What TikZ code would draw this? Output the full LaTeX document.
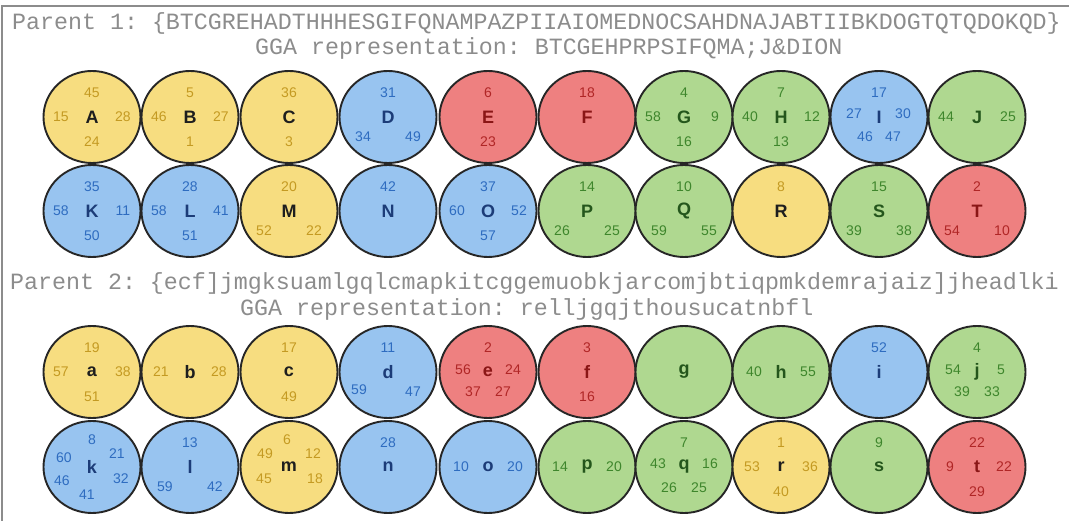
\documentclass[tikz,border=0pt]{standalone}
\usepackage{fontspec}
\setmainfont{Liberation Sans}
\setmonofont{Liberation Mono}
\usepackage{xcolor}
\usepackage{tikz}
\usetikzlibrary{shapes.geometric, positioning}

\definecolor{yelFill}{HTML}{F7DD80}
\definecolor{yelInk}{HTML}{1E1E1E}
\definecolor{yelNum}{HTML}{C49A22}
\definecolor{bluFill}{HTML}{98C4F0}
\definecolor{bluInk}{HTML}{1C3C78}
\definecolor{bluNum}{HTML}{2E6CC0}
\definecolor{redFill}{HTML}{EE8080}
\definecolor{redInk}{HTML}{8A1616}
\definecolor{redNum}{HTML}{B02626}
\definecolor{grnFill}{HTML}{AFD890}
\definecolor{grnInk}{HTML}{24561C}
\definecolor{grnNum}{HTML}{3E862C}
\definecolor{ballEdge}{HTML}{262626}
\definecolor{chromGray}{HTML}{8C8C8C}

% gene ball: name, colour, x, y, letter
\newcommand{\gene}[5]{\node[ball, fill=#2Fill, text=#2Ink] (#1) at (#3,#4) {#5};}
% index around a ball: ball, colour, tag, offset, value
\newcommand{\idx}[5]{\node[num, text=#2Num] (#1-#3) at ([shift={(#4)}]#1) {#5};}

\begin{document}
\begin{tikzpicture}[
  x=1pt, y=-1pt,
  ball/.style={ellipse, draw=ballEdge, line width=1.9pt, minimum width=97pt, minimum height=92pt, inner sep=0pt, font=\fontsize{18}{18}\selectfont\bfseries},
  num/.style={inner sep=0pt, font=\fontsize{14}{14}\selectfont},
  chrom/.style={inner sep=0pt, anchor=west, text=chromGray, font=\ttfamily\fontsize{23.3}{24}\selectfont}
]
  \useasboundingbox (0,0) rectangle (1069,521);
  \draw[chromGray, line width=1.4pt] (2,521) -- (2,6) -- (1069,6);

  % parent 1
  \node[chrom] (p1) at (12,23) {Parent 1: \{BTCGREHADTHHHESGIFQNAMPAZPIIAIOMEDNOCSAHDNAJABTIIBKDOGTQTQDOKQD\}};
  \node[chrom] (p1gga) at (255,48) {GGA representation: BTCGEHPRPSIFQMA;J\&DION};

  \gene{A}{yel}{92}{117}{A}
  \idx{A}{yel}{t}{0,-24}{45} \idx{A}{yel}{l}{-31,0}{15} \idx{A}{yel}{r}{31,0}{28} \idx{A}{yel}{b}{0,25}{24}
  \gene{B}{yel}{190}{117}{B}
  \idx{B}{yel}{t}{0,-24}{5} \idx{B}{yel}{l}{-31,0}{46} \idx{B}{yel}{r}{31,0}{27} \idx{B}{yel}{b}{0,25}{1}
  \gene{C}{yel}{289}{117}{C}
  \idx{C}{yel}{t}{0,-24}{36} \idx{C}{yel}{b}{0,25}{3}
  \gene{D}{blu}{388}{117}{D}
  \idx{D}{blu}{t}{0,-24}{31} \idx{D}{blu}{bl}{-25,20}{34} \idx{D}{blu}{br}{25,20}{49}
  \gene{E}{red}{488}{117}{E}
  \idx{E}{red}{t}{0,-24}{6} \idx{E}{red}{b}{0,25}{23}
  \gene{F}{red}{587}{117}{F}
  \idx{F}{red}{t}{0,-24}{18}
  \gene{G}{grn}{684}{117}{G}
  \idx{G}{grn}{t}{0,-24}{4} \idx{G}{grn}{l}{-31,0}{58} \idx{G}{grn}{r}{31,0}{9} \idx{G}{grn}{b}{0,25}{16}
  \gene{H}{grn}{781}{117}{H}
  \idx{H}{grn}{t}{0,-24}{7} \idx{H}{grn}{l}{-31,0}{40} \idx{H}{grn}{r}{31,0}{12} \idx{H}{grn}{b}{0,25}{13}
  \gene{I}{blu}{879}{117}{I}
  \idx{I}{blu}{t}{0,-24}{17} \idx{I}{blu}{l}{-25,-3}{27} \idx{I}{blu}{r}{24,-3}{30}
  \idx{I}{blu}{bl}{-14,20}{46} \idx{I}{blu}{br}{14,20}{47}
  \gene{J}{grn}{977}{117}{J}
  \idx{J}{grn}{l}{-31,0}{44} \idx{J}{grn}{r}{31,0}{25}

  \gene{K}{blu}{92}{211}{K}
  \idx{K}{blu}{t}{0,-24}{35} \idx{K}{blu}{l}{-31,0}{58} \idx{K}{blu}{r}{31,0}{11} \idx{K}{blu}{b}{0,25}{50}
  \gene{L}{blu}{190}{211}{L}
  \idx{L}{blu}{t}{0,-24}{28} \idx{L}{blu}{l}{-31,0}{58} \idx{L}{blu}{r}{31,0}{41} \idx{L}{blu}{b}{0,25}{51}
  \gene{M}{yel}{289}{211}{M}
  \idx{M}{yel}{t}{0,-24}{20} \idx{M}{yel}{bl}{-25,20}{52} \idx{M}{yel}{br}{25,20}{22}
  \gene{N}{blu}{388}{211}{N}
  \idx{N}{blu}{t}{0,-24}{42}
  \gene{O}{blu}{488}{211}{O}
  \idx{O}{blu}{t}{0,-24}{37} \idx{O}{blu}{l}{-31,0}{60} \idx{O}{blu}{r}{31,0}{52} \idx{O}{blu}{b}{0,25}{57}
  \gene{P}{grn}{587}{211}{P}
  \idx{P}{grn}{t}{0,-24}{14} \idx{P}{grn}{bl}{-25,20}{26} \idx{P}{grn}{br}{25,20}{25}
  \gene{Q}{grn}{684}{211}{Q}
  \idx{Q}{grn}{t}{0,-24}{10} \idx{Q}{grn}{bl}{-25,20}{59} \idx{Q}{grn}{br}{25,20}{55}
  \gene{R}{yel}{781}{211}{R}
  \idx{R}{yel}{t}{0,-24}{8}
  \gene{S}{grn}{879}{211}{S}
  \idx{S}{grn}{t}{0,-24}{15} \idx{S}{grn}{bl}{-25,20}{39} \idx{S}{grn}{br}{25,20}{38}
  \gene{T}{red}{977}{211}{T}
  \idx{T}{red}{t}{0,-24}{2} \idx{T}{red}{bl}{-25,20}{54} \idx{T}{red}{br}{25,20}{10}

  % parent 2
  \node[chrom] (p2) at (10,283) {Parent 2: \{ecf]jmgksuamlgqlcmapkitcggemuobkjarcomjbtiqpmkdemrajaiz]jheadlki};
  \node[chrom] (p2gga) at (240,309) {GGA representation: relljgqjthousucatnbfl};

  \gene{a}{yel}{92}{372}{a}
  \idx{a}{yel}{t}{0,-24}{19} \idx{a}{yel}{l}{-31,0}{57} \idx{a}{yel}{r}{31,0}{38} \idx{a}{yel}{b}{0,25}{51}
  \gene{b}{yel}{190}{372}{b}
  \idx{b}{yel}{l}{-29,0}{21} \idx{b}{yel}{r}{29,0}{28}
  \gene{c}{yel}{289}{372}{c}
  \idx{c}{yel}{t}{0,-24}{17} \idx{c}{yel}{b}{0,25}{49}
  \gene{d}{blu}{388}{372}{d}
  \idx{d}{blu}{t}{0,-24}{11} \idx{d}{blu}{bl}{-29,18}{59} \idx{d}{blu}{br}{25,20}{47}
  \gene{e}{red}{488}{372}{e}
  \idx{e}{red}{t}{0,-24}{2} \idx{e}{red}{l}{-25,-2}{56} \idx{e}{red}{r}{25,-2}{24}
  \idx{e}{red}{bl}{-15,20}{37} \idx{e}{red}{br}{15,20}{27}
  \gene{f}{red}{587}{372}{f}
  \idx{f}{red}{t}{0,-24}{3} \idx{f}{red}{b}{0,25}{16}
  \gene{g}{grn}{684}{372}{g}
  \gene{h}{grn}{781}{372}{h}
  \idx{h}{grn}{l}{-27,0}{40} \idx{h}{grn}{r}{27,0}{55}
  \gene{i}{blu}{879}{372}{i}
  \idx{i}{blu}{t}{0,-24}{52}
  \gene{j}{grn}{977}{372}{j}
  \idx{j}{grn}{t}{0,-24}{4} \idx{j}{grn}{l}{-24,-2}{54} \idx{j}{grn}{r}{24,-2}{5}
  \idx{j}{grn}{bl}{-15,20}{39} \idx{j}{grn}{br}{15,20}{33}

  \gene{k}{blu}{92}{467}{k}
  \idx{k}{blu}{t}{0,-27}{8} \idx{k}{blu}{ul}{-28,-9}{60} \idx{k}{blu}{ur}{25,-13}{21}
  \idx{k}{blu}{bl}{-30,14}{46} \idx{k}{blu}{b}{-5,28}{41} \idx{k}{blu}{br}{29,12}{32}
  \gene{l}{blu}{190}{467}{l}
  \idx{l}{blu}{t}{0,-24}{13} \idx{l}{blu}{bl}{-25,20}{59} \idx{l}{blu}{br}{25,20}{42}
  \gene{m}{yel}{289}{467}{m}
  \idx{m}{yel}{t}{-2,-27}{6} \idx{m}{yel}{ul}{-24,-13}{49} \idx{m}{yel}{ur}{24,-13}{12}
  \idx{m}{yel}{bl}{-25,12}{45} \idx{m}{yel}{br}{26,12}{18}
  \gene{n}{blu}{388}{467}{n}
  \idx{n}{blu}{t}{0,-24}{28}
  \gene{o}{blu}{488}{467}{o}
  \idx{o}{blu}{l}{-27,0}{10} \idx{o}{blu}{r}{27,0}{20}
  \gene{p}{grn}{587}{467}{p}
  \idx{p}{grn}{l}{-27,0}{14} \idx{p}{grn}{r}{27,0}{20}
  \gene{q}{grn}{684}{467}{q}
  \idx{q}{grn}{t}{0,-24}{7} \idx{q}{grn}{l}{-26,-3}{43} \idx{q}{grn}{r}{26,-3}{16}
  \idx{q}{grn}{bl}{-15,21}{26} \idx{q}{grn}{br}{15,21}{25}
  \gene{r}{yel}{781}{467}{r}
  \idx{r}{yel}{t}{0,-24}{1} \idx{r}{yel}{l}{-29,0}{53} \idx{r}{yel}{r}{29,0}{36} \idx{r}{yel}{b}{0,25}{40}
  \gene{s}{grn}{879}{467}{s}
  \idx{s}{grn}{t}{0,-24}{9}
  \gene{t}{red}{977}{467}{t}
  \idx{t}{red}{t}{0,-24}{22} \idx{t}{red}{l}{-27,0}{9} \idx{t}{red}{r}{27,0}{22} \idx{t}{red}{b}{0,25}{29}
\end{tikzpicture}
\end{document}
